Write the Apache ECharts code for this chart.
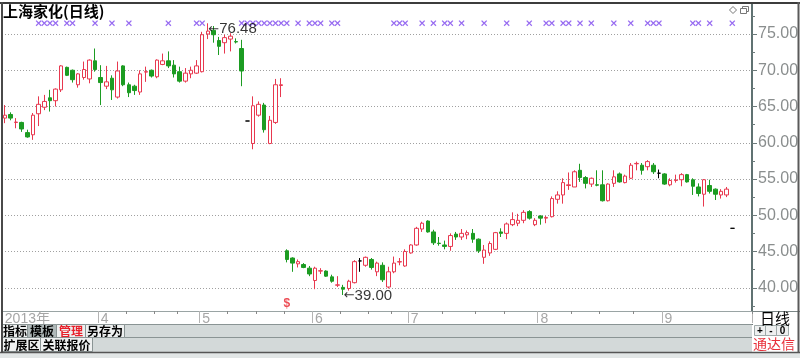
<!DOCTYPE html>
<html><head><meta charset="utf-8">
<script src="https://cdn.jsdelivr.net/npm/echarts@6/dist/echarts.min.js"></script>
<style>html,body{margin:0;padding:0;background:#fff}#c{width:800px;height:358px}</style>
</head><body><div id="c"></div>
<script>
// ---- data ----
const monthStartIdx = [0, 17, 35, 55, 72, 95, 117];
const monthNames = ['2013年', '4', '5', '6', '7', '8', '9'];
const minorTickIdx = [22, 27, 31, 40, 45, 50, 60, 65, 69, 78, 84, 89, 101, 106, 112];
const slotCount = 133;
const categories = Array.from({length: slotCount}, (_, i) => 'd' + i);

const opens = [63.4,63.9,62.8,62.8,61.4,61.1,64.0,64.9,66.2,65.8,67.3,70.4,70.0,68.0,69.0,68.8,71.3,69.0,67.8,68.9,
66.3,70.6,68.0,67.8,67.0,69.75,70.0,69.1,70.8,71.3,70.7,69.8,68.5,69.5,69.6,69.8,75.0,75.5,74.1,73.8,
74.3,73.95,73.0,63.0,59.9,63.8,65.2,59.9,62.8,67.9,45.1,44.1,43.3,43.2,42.7,41.0,42.3,42.3,41.5,40.35,
40.05,39.9,40.7,43.7,43.1,43.9,42.2,43.1,40.1,42.2,43.55,43.0,44.8,45.9,48.1,49.2,47.7,46.15,45.9,45.7,
47.4,47.0,47.3,47.5,46.7,44.2,44.8,45.3,47.7,47.5,48.7,48.9,49.3,50.5,48.7,49.9,49.6,49.8,52.2,52.8,
54.1,53.9,56.2,55.2,54.3,54.2,54.2,52.0,54.4,55.7,54.5,55.1,57.1,56.9,56.7,56.9,55.8,55.7,54.2,54.8,
54.9,55.6,54.9,53.9,52.9,54.1,53.6,52.8,52.8,48.2];
const closes = [63.8,63.4,62.85,61.9,60.8,63.8,65.3,65.7,65.8,67.4,70.6,69.3,68.7,69.5,70.1,71.4,70.1,68.3,68.4,67.3,
69.9,68.0,66.9,67.2,69.5,69.8,69.2,71.4,71.3,70.6,69.5,68.5,69.6,70.0,70.6,74.9,75.4,74.9,73.3,74.5,
74.7,73.9,69.9,63.0,65.1,65.3,61.8,63.1,68.0,68.0,43.9,43.4,43.6,42.8,41.9,42.7,42.35,41.6,40.9,40.4,
39.8,40.9,43.6,43.7,44.2,42.8,43.4,41.1,42.2,43.4,43.6,45.0,45.9,48.2,48.9,47.7,46.2,46.1,45.7,47.2,
47.0,47.5,47.6,46.7,45.1,45.2,46.1,47.6,47.5,48.8,49.4,49.3,50.4,49.6,49.3,49.6,49.7,52.3,52.8,54.5,
54.2,56.0,55.2,54.4,55.1,54.15,52.0,54.3,55.3,54.6,55.4,56.9,57.15,56.2,57.4,56.0,55.8,54.3,54.8,54.85,
55.6,54.6,54.0,53.0,54.9,53.3,52.9,53.3,53.6,48.2];
const lows = [62.7,63.1,62.0,61.5,60.7,60.4,62.3,64.5,64.3,65.0,67.0,69.2,68.3,67.6,68.7,68.2,69.8,65.2,67.4,65.9,
66.1,67.8,66.3,66.6,66.6,68.4,69.0,68.9,70.7,70.3,69.0,68.3,68.3,68.9,69.5,69.7,74.3,73.8,72.1,72.3,
72.6,73.7,67.8,63.0,59.1,63.6,61.4,59.8,62.6,66.3,43.5,42.2,42.8,42.7,41.6,39.8,41.9,41.5,40.7,40.1,
39.0,39.6,40.6,42.2,42.9,42.5,41.6,40.8,39.9,42.0,43.1,42.9,44.7,45.8,47.7,47.6,45.9,45.8,45.3,45.1,
46.6,46.6,46.7,46.2,44.8,43.3,44.4,45.2,47.0,46.7,48.5,48.5,48.9,49.4,48.5,48.7,48.9,49.7,51.6,51.6,
53.5,53.9,54.6,53.7,53.9,54.0,51.9,51.9,53.9,54.5,54.4,55.0,56.2,55.6,56.2,55.7,55.1,54.2,54.0,54.5,
54.0,54.5,52.8,52.6,51.2,53.0,52.1,52.3,52.5,48.2];
const highs = [65.2,64.2,63.4,62.9,61.8,64.1,66.4,66.6,67.3,67.5,70.7,70.5,70.1,69.6,71.2,71.5,73.0,70.7,70.6,69.3,
71.2,70.7,68.3,68.0,70.0,70.5,70.1,71.5,72.3,72.6,71.4,70.5,70.3,70.5,71.4,75.3,76.48,76.1,74.6,74.9,
75.1,74.4,74.2,63.0,66.4,65.7,65.5,63.7,68.8,68.9,45.3,44.2,43.9,43.4,43.0,42.9,42.7,42.4,41.8,41.6,
40.4,41.1,43.8,44.1,44.3,44.1,43.6,43.5,42.9,44.3,44.1,45.3,46.0,48.4,49.1,49.3,48.0,47.0,46.5,47.5,
47.7,48.1,47.9,48.1,46.8,45.9,46.4,47.7,48.2,49.0,50.4,50.2,50.7,50.7,49.6,50.0,49.9,52.6,53.3,55.1,
55.9,56.2,57.1,55.4,55.2,56.2,56.2,54.4,56.2,55.9,55.6,57.2,57.4,57.2,57.6,57.2,56.3,55.8,55.1,55.6,
55.8,55.7,55.1,54.4,55.0,54.9,53.7,53.6,53.9,48.2];
const flatIdx = [43, 63, 116, 129];
const signalIdx = [6,7,8,9,11,12,16,19,22,29,34,35,42,43,44,45,46,47,48,49,50,52,54,55,56,58,59,69,70,71,74,76,78,79,81,85,89,93,96,97,99,100,102,104,108,111,114,115,116,122,123,125,129];
const signalLevel = 76.5;
const maxMark = [36, 76.48];
const minMark = [60, 39.00];
const exRightMark = [50, 37.8];
const yLabelMin = 35, yLabelMax = 80, yLabelStep = 5;

// ---- chart ----
const RED = '#e8384f', GREEN = '#1c9c22';
const chart = echarts.init(document.getElementById('c'), null, {renderer: 'canvas'});
const candleData = opens.map((o, i) => {
  const v = [o, closes[i], lows[i], highs[i]];
  if (flatIdx.includes(i)) {
    return {value: v, itemStyle: {color: '#000', color0: '#000', borderColor: '#000', borderColor0: '#000', borderColorDoji: '#000'}};
  }
  return v;
});
const FONT = '"Liberation Sans", Arial, "Noto Sans CJK SC", sans-serif';
const CJK = '"Noto Sans CJK SC", sans-serif';

function button(x, y, w, h, text, fill, color) {
  return [
    {type: 'rect', shape: {x: x + 0.5, y: y + 0.5, width: w, height: h}, style: {fill: fill, stroke: '#8a9494', lineWidth: 1}, z: 102},
    {type: 'text', x: x + w / 2 + 0.5, y: y + h / 2 + 1, style: {text: text, fill: color, font: 'bold 12px ' + CJK, align: 'center', verticalAlign: 'middle'}, z: 103}
  ];
}

const graphics = [
  {type: 'rect', shape: {x: 2, y: 324, width: 750, height: 29}, style: {fill: '#d3d9d9'}, z: 100},
  {type: 'line', shape: {x1: 2, y1: 324.5, x2: 752, y2: 324.5}, style: {stroke: '#8a9494', lineWidth: 1}, z: 101},
  {type: 'line', shape: {x1: 2, y1: 337.5, x2: 752, y2: 337.5}, style: {stroke: '#8a9494', lineWidth: 1}, z: 101},
  ...button(2, 324, 25, 13, '指标', '#eef0f0', '#000'),
  ...button(27, 324, 29, 13, '模板', '#afb8b8', '#000'),
  ...button(56, 324, 29, 13, '管理', '#eef0f0', '#e8202a'),
  ...button(85, 324, 39, 13, '另存为', '#eef0f0', '#000'),
  ...button(2, 337, 38, 14, '扩展区', '#eef0f0', '#000'),
  ...button(40, 337, 52, 14, '关联报价', '#eef0f0', '#000'),
  {type: 'rect', shape: {x: 753, y: 312, width: 45, height: 41}, style: {fill: '#fff'}, z: 100},
  {type: 'line', shape: {x1: 752, y1: 311.5, x2: 800, y2: 311.5}, style: {stroke: '#7a8686', lineWidth: 1}, z: 101},
  {type: 'text', x: 775, y: 318, style: {text: '日线', fill: '#000', font: '15px ' + CJK, align: 'center', verticalAlign: 'middle'}, z: 103},
  {type: 'rect', shape: {x: 754.5, y: 325.5, width: 34, height: 10}, style: {fill: '#eef0f0', stroke: '#a0aaaa', lineWidth: 1}, z: 102},
  {type: 'line', shape: {x1: 765.5, y1: 325.5, x2: 765.5, y2: 335.5}, style: {stroke: '#a0aaaa'}, z: 103},
  {type: 'line', shape: {x1: 776.5, y1: 325.5, x2: 776.5, y2: 335.5}, style: {stroke: '#a0aaaa'}, z: 103},
  {type: 'text', x: 760, y: 331, style: {text: '+', fill: '#000', font: 'bold 10px ' + FONT, align: 'center', verticalAlign: 'middle'}, z: 104},
  {type: 'text', x: 771, y: 331, style: {text: '-', fill: '#000', font: 'bold 10px ' + FONT, align: 'center', verticalAlign: 'middle'}, z: 104},
  {type: 'text', x: 782.5, y: 331, style: {text: '0', fill: '#000', font: 'bold 10px ' + FONT, align: 'center', verticalAlign: 'middle'}, z: 104},
  {type: 'text', x: 774, y: 344, style: {text: '通达信', fill: '#e8303a', font: '14px ' + CJK, align: 'center', verticalAlign: 'middle'}, z: 103},
  {type: 'rect', shape: {x: 0, y: 353, width: 800, height: 5}, style: {fill: '#e2e6e6'}, z: 100},
  {type: 'line', shape: {x1: 0, y1: 352.5, x2: 800, y2: 352.5}, style: {stroke: '#555', lineWidth: 1.5}, z: 105},
  {type: 'line', shape: {x1: 0, y1: 3, x2: 800, y2: 3}, style: {stroke: '#3c3c3c', lineWidth: 2}, z: 105},
  {type: 'line', shape: {x1: 2, y1: 2, x2: 2, y2: 353}, style: {stroke: '#4a4a4a', lineWidth: 2}, z: 105},
  {type: 'line', shape: {x1: 798.5, y1: 2, x2: 798.5, y2: 353}, style: {stroke: '#5a5a5a', lineWidth: 2}, z: 105},
  {type: 'polygon', shape: {points: [[733, 6.5], [736.5, 10], [733, 13.5], [729.5, 10]]}, style: {fill: '#fff', stroke: '#777', lineWidth: 1}, z: 105},
  {type: 'rect', shape: {x: 742.5, y: 6.5, width: 6, height: 5}, style: {fill: '#fff', stroke: '#777', lineWidth: 1}, z: 105},
  {type: 'rect', shape: {x: 740.5, y: 8.5, width: 6, height: 5}, style: {fill: '#fff', stroke: '#777', lineWidth: 1}, z: 106}
];

const markLabel = (val, dy) => ({
  show: true, position: 'right', distance: 0, offset: [0, dy],
  formatter: '{a|←}{b|' + val.toFixed(2) + '}',
  rich: {a: {fontFamily: '"DejaVu Sans", sans-serif', fontSize: 13, color: '#000'},
         b: {fontFamily: FONT, fontSize: 15, color: '#000'}}
});

const option = {
  animation: false,
  backgroundColor: '#fff',
  textStyle: {fontFamily: FONT},
  title: {text: '上海家化(日线)', left: 3, top: 4, padding: 0,
    textStyle: {fontSize: 15, fontWeight: 'bold', color: '#000', fontFamily: CJK}},
  grid: [
    {left: 2, right: 48, top: 3, bottom: 47, outerBoundsMode: 'none', containLabel: false},
    {left: 2, right: 48, top: -2.25, bottom: 34, outerBoundsMode: 'none', containLabel: false}
  ],
  xAxis: [
    {type: 'category', gridIndex: 0, data: categories, boundaryGap: true,
      axisLine: {show: true, lineStyle: {color: '#9aa4a4', width: 1}},
      axisTick: {show: true, interval: (i) => monthStartIdx.includes(i) && i > 0, length: 12, lineStyle: {color: '#b4b4b4'}},
      axisLabel: {show: true, interval: (i) => monthStartIdx.includes(i), align: 'left', margin: 1,
        color: '#a6a6a6', fontSize: 14, fontFamily: FONT,
        formatter: (v, i) => { const k = monthStartIdx.indexOf(i); return k >= 0 ? monthNames[k] : ''; }},
      splitLine: {show: false}},
    {type: 'category', gridIndex: 1, data: categories, boundaryGap: true, show: false},
    {type: 'category', gridIndex: 0, data: categories, boundaryGap: true, position: 'bottom',
      axisLine: {show: false}, axisLabel: {show: false}, splitLine: {show: false},
      axisTick: {show: true, interval: (i) => minorTickIdx.includes(i), length: 3, lineStyle: {color: '#888'}}}
  ],
  yAxis: [
    {type: 'value', gridIndex: 0, position: 'right', min: 36.793, max: 79.276, scale: true,
      axisLine: {show: true, lineStyle: {color: '#607272', width: 2}},
      axisTick: {show: false}, axisLabel: {show: false}, splitLine: {show: false}},
    {type: 'value', gridIndex: 1, position: 'right', min: yLabelMin, max: yLabelMax, interval: yLabelStep,
      axisLine: {show: false},
      axisTick: {show: true, length: 5, lineStyle: {color: '#6c7a7a'}},
      minorTick: {show: true, splitNumber: 2, length: 3, lineStyle: {color: '#6c7a7a'}},
      axisLabel: {show: true, margin: 6, color: '#8a8e8e', fontSize: 16, fontFamily: FONT,
        formatter: (v) => (v <= yLabelMin || v >= yLabelMax) ? '' : v.toFixed(2)},
      splitLine: {show: true, lineStyle: {color: '#a0a0a0', type: [1, 2], width: 1}}}
  ],
  series: [
    {type: 'candlestick', xAxisIndex: 0, yAxisIndex: 0, data: candleData, barWidth: 4,
      itemStyle: {color: '#fff', color0: GREEN, borderColor: RED, borderColor0: GREEN, borderColorDoji: '#000', borderWidth: 1}},
    {type: 'scatter', xAxisIndex: 0, yAxisIndex: 0, symbol: 'path://M0,1.5L1.5,0L5,3.5L8.5,0L10,1.5L6.5,5L10,8.5L8.5,10L5,6.5L1.5,10L0,8.5L3.5,5Z',
      symbolSize: 6, itemStyle: {color: '#7d46ee'}, data: signalIdx.map(i => [i, signalLevel]), z: 3},
    {type: 'scatter', xAxisIndex: 0, yAxisIndex: 0, symbolSize: 1, itemStyle: {color: 'transparent'}, z: 4,
      data: [
        {value: maxMark, label: markLabel(maxMark[1], 6)},
        {value: minMark, label: markLabel(minMark[1], 1)},
        {value: exRightMark, label: {show: true, position: 'inside', formatter: '$', color: '#e8202a', fontSize: 12, fontWeight: 'bold', fontFamily: FONT}}
      ]}
  ],
  graphic: graphics
};
chart.setOption(option);
</script>
</body></html>
